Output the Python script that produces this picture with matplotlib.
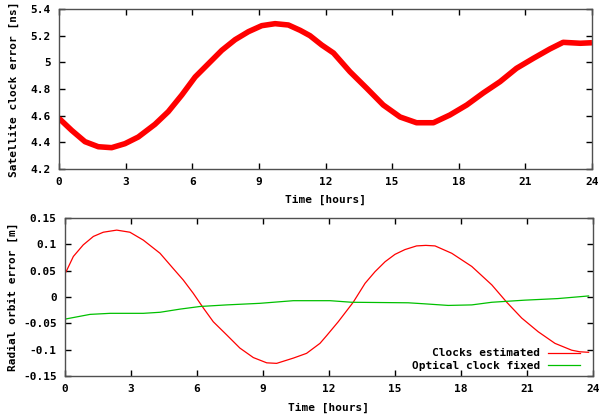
import matplotlib
matplotlib.use("Agg")
import matplotlib.pyplot as plt

# Top panel: satellite clock error [ns]
t_top = [0, 0.57, 1.17, 1.77, 2.37, 2.97, 3.57, 4.32, 4.92, 5.53, 6.13, 6.73, 7.33,
         7.93, 8.53, 9.13, 9.73, 10.33, 10.86, 11.3, 11.83, 12.36, 13.1, 13.86,
         14.6, 15.36, 16.1, 16.86, 17.6, 18.36, 19.1, 19.86, 20.6, 21.36, 22.1,
         22.7, 23.47, 24]
clock_err = [4.58, 4.49, 4.405, 4.367, 4.36, 4.39, 4.44, 4.535, 4.63, 4.755, 4.89,
             4.99, 5.09, 5.17, 5.23, 5.275, 5.29, 5.28, 5.24, 5.20, 5.13, 5.07,
             4.93, 4.805, 4.68, 4.59, 4.547, 4.547, 4.605, 4.68, 4.77, 4.855,
             4.955, 5.03, 5.10, 5.15, 5.143, 5.147]

# Bottom panel: radial orbit error [m]
t_red = [0.05, 0.38, 0.83, 1.29, 1.74, 2.35, 2.95, 3.56, 4.32, 4.92, 5.38, 5.83,
         6.29, 6.74, 7.35, 7.95, 8.56, 9.17, 9.62, 10.38, 10.98, 11.59, 11.9,
         12.42, 13.1, 13.64, 14.09, 14.55, 15.0, 15.45, 15.98, 16.4, 16.82, 17.58,
         18.49, 19.4, 20.08, 20.76, 21.51, 22.27, 23.03, 23.4, 23.8]
clocks_est = [0.048, 0.077, 0.099, 0.115, 0.123, 0.127, 0.123, 0.108, 0.083, 0.054,
              0.032, 0.007, -0.021, -0.047, -0.072, -0.097, -0.115, -0.125, -0.126,
              -0.116, -0.107, -0.088, -0.073, -0.047, -0.010, 0.026, 0.048, 0.067,
              0.081, 0.090, 0.097, 0.098, 0.097, 0.083, 0.058, 0.023, -0.010,
              -0.040, -0.066, -0.088, -0.101, -0.104, -0.105]
t_green = [0, 1.14, 2.05, 3.56, 4.32, 5.23, 6.14, 7.35, 8.86, 10.38, 12.05, 13.03,
           15.6, 16.36, 17.42, 18.49, 19.4, 20.9, 22.4, 23.8]
optical_fixed = [-0.042, -0.033, -0.031, -0.031, -0.029, -0.023, -0.018, -0.015,
                 -0.012, -0.007, -0.007, -0.010, -0.011, -0.013, -0.016, -0.015,
                 -0.010, -0.006, -0.003, 0.002]

x_ticks = [0, 3, 6, 9, 12, 15, 18, 21, 24]
top_yticks = [4.2, 4.4, 4.6, 4.8, 5.0, 5.2, 5.4]
top_ylabels = ["4.2", "4.4", "4.6", "4.8", "5", "5.2", "5.4"]
bot_yticks = [-0.15, -0.1, -0.05, 0, 0.05, 0.1, 0.15]
bot_ylabels = ["-0.15", "-0.1", "-0.05", "0", "0.05", "0.1", "0.15"]

plt.rcParams['font.family'] = ['DejaVu Sans Mono']
plt.rcParams['font.weight'] = 'bold'
plt.rcParams['font.size'] = 8

W, H = 601, 416
fig = plt.figure(figsize=(W / 100, H / 100), dpi=100)
ax1 = fig.add_axes([59/W, 1-169/H, (592-59)/W, (169-9)/H])
ax2 = fig.add_axes([65/W, 1-376/H, (593-65)/W, (376-218)/H])

frame_color = "#505050"

def style(ax):
    for s in ax.spines.values():
        s.set_color(frame_color)
        s.set_linewidth(1.0)
    ax.tick_params(direction="in", length=4, width=1, color="#000000",
                   top=True, right=True, labelsize=8, pad=6)
    for lab in ax.get_xticklabels() + ax.get_yticklabels():
        lab.set_fontweight("bold")

ax1.plot(t_top, clock_err, color="#ff0000", lw=4.0, solid_capstyle="butt",
         solid_joinstyle="round")
ax1.set_xlim(0, 24)
ax1.set_ylim(4.2, 5.4)
ax1.set_xticks(x_ticks)
ax1.set_xticklabels([str(v) for v in x_ticks])
ax1.set_yticks(top_yticks)
ax1.set_yticklabels(top_ylabels)
ax1.set_xlabel("Time [hours]", labelpad=5, fontweight="bold")
style(ax1)
fig.text(14/W, 1-89/H, "Satellite clock error [ns]", rotation=90,
         ha="center", va="center", fontweight="bold", fontsize=8)

ax2.plot(t_red, clocks_est, color="#ff0000", lw=0.9, label="Clocks estimated")
ax2.plot(t_green, optical_fixed, color="#00c000", lw=0.9, label="Optical clock fixed")
ax2.set_xlim(0, 24)
ax2.set_ylim(-0.15, 0.15)
ax2.set_xticks(x_ticks)
ax2.set_xticklabels([str(v) for v in x_ticks])
ax2.set_yticks(bot_yticks)
ax2.set_yticklabels(bot_ylabels)
ax2.set_xlabel("Time [hours]", labelpad=6, fontweight="bold")
style(ax2)
fig.text(13/W, 1-297/H, "Radial orbit error [m]", rotation=90,
         ha="center", va="center", fontweight="bold", fontsize=8)

leg = ax2.legend(loc="lower right", bbox_to_anchor=(0.984, 0.002), frameon=False,
                 markerfirst=False, handlelength=2.9, handletextpad=0.7,
                 labelspacing=0.25, borderaxespad=0.0, fontsize=8)
for txt in leg.get_texts():
    txt.set_ha("right")
    txt.set_fontweight("bold")

fig.savefig("out.png", dpi=100)
